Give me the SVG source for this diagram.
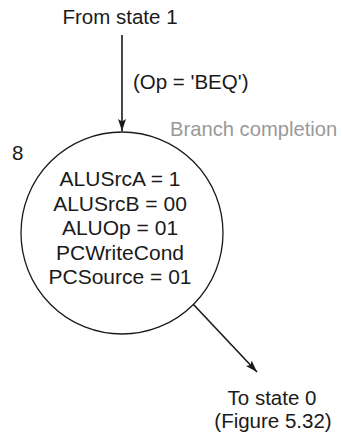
<svg xmlns="http://www.w3.org/2000/svg" width="343" height="437" viewBox="0 0 343 437">
<style>
text { font-family: "Liberation Sans", Arial, sans-serif; font-size: 20.5px; fill: #1a1a1a; }
.lbl { text-anchor: middle; }
.inner { font-size: 21px; }
.gray { fill: #999; font-size: 20.2px; }
.conn { stroke: #1a1a1a; stroke-width: 1.6; fill: none; }
.state { stroke: #1a1a1a; stroke-width: 1.3; fill: #fff; }
</style>
<defs>
<marker id="ah" viewBox="0 0 12 8" refX="12" refY="4" markerWidth="12" markerHeight="8" markerUnits="userSpaceOnUse" orient="auto">
<path d="M0,0 L12,4 L0,8 L2.5,4 Z" fill="#1a1a1a"/>
</marker>
</defs>
<g id="connectors">
<line class="conn" x1="122" y1="35" x2="122" y2="131" marker-end="url(#ah)"/>
<line class="conn" x1="193" y1="304" x2="257" y2="372" marker-end="url(#ah)"/>
<text x="133" y="89">(Op = 'BEQ')</text>
</g>
<g id="state8">
<circle class="state" cx="122" cy="233" r="101"/>
<text x="12" y="160">8</text>
<text class="lbl inner" x="120" y="186">ALUSrcA = 1</text>
<text class="lbl inner" x="120" y="210.5">ALUSrcB = 00</text>
<text class="lbl inner" x="120" y="235">ALUOp = 01</text>
<text class="lbl inner" x="120" y="259.5">PCWriteCond</text>
<text class="lbl inner" x="120" y="284">PCSource = 01</text>
</g>
<g id="title">
<text class="gray" x="170" y="136">Branch completion</text>
</g>
<g id="from">
<text class="lbl" x="120" y="24">From state 1</text>
</g>
<g id="to">
<text class="lbl" x="272" y="405">To state 0</text>
<text class="lbl" x="273" y="428">(Figure 5.32)</text>
</g>
</svg>
